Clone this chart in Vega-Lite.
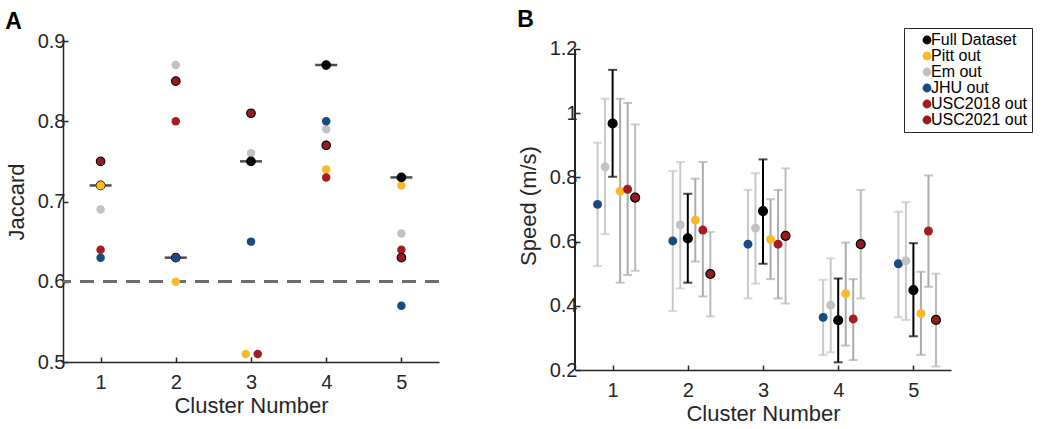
{
  "$schema": "https://vega.github.io/schema/vega-lite/v6.json",
  "padding": {"left": 5, "top": 8, "right": 5, "bottom": 5},
  "background": "white",
  "spacing": 77,
  "config": {
    "view": {"stroke": null},
    "font": "Liberation Sans",
    "axis": {
      "domainColor": "#262626", "domainWidth": 1.5,
      "tickColor": "#262626", "tickWidth": 1.5, "tickSize": -5,
      "labelColor": "#262626", "labelFontSize": 20, "labelFont": "Liberation Sans",
      "labelFlush": false, "labelOverlap": false,
      "titleFontSize": 22, "titleFontWeight": "normal", "titleColor": "#262626", "titleFont": "Liberation Sans",
      "grid": false
    },
    "axisX": {"labelPadding": 15, "titlePadding": 3},
    "axisY": {"labelPadding": 3, "titlePadding": 9}
  },
  "resolve": {"scale": {"fill": "independent"}, "legend": {"fill": "independent"}},
  "hconcat": [
    {
      "width": 376, "height": 321,
      "title": {"text": "A", "anchor": "start", "frame": "bounds", "fontSize": 23, "fontWeight": "bold", "baseline": "alphabetic", "offset": -21, "color": "black", "font": "Liberation Sans"},
      "data": {"values": [
        {"x": 1, "series": "Full Dataset", "jaccard": 0.72},
        {"x": 1, "series": "Em out", "jaccard": 0.69},
        {"x": 1, "series": "JHU out", "jaccard": 0.63},
        {"x": 1, "series": "USC2018 out", "jaccard": 0.64},
        {"x": 1, "series": "Pitt out", "jaccard": 0.72},
        {"x": 1, "series": "USC2021 out", "jaccard": 0.75},
        {"x": 2, "series": "Full Dataset", "jaccard": 0.63},
        {"x": 2, "series": "Em out", "jaccard": 0.87},
        {"x": 2, "series": "Pitt out", "jaccard": 0.60},
        {"x": 2, "series": "JHU out", "jaccard": 0.63},
        {"x": 2, "series": "USC2018 out", "jaccard": 0.80},
        {"x": 2, "series": "USC2021 out", "jaccard": 0.85},
        {"x": 3, "series": "Em out", "jaccard": 0.76},
        {"x": 3, "series": "Full Dataset", "jaccard": 0.75},
        {"x": 3, "series": "JHU out", "jaccard": 0.65},
        {"x": 2.93, "series": "Pitt out", "jaccard": 0.51},
        {"x": 3.09, "series": "USC2018 out", "jaccard": 0.51},
        {"x": 3, "series": "USC2021 out", "jaccard": 0.81},
        {"x": 4, "series": "Full Dataset", "jaccard": 0.87},
        {"x": 4, "series": "Em out", "jaccard": 0.79},
        {"x": 4, "series": "JHU out", "jaccard": 0.80},
        {"x": 4, "series": "Pitt out", "jaccard": 0.74},
        {"x": 4, "series": "USC2018 out", "jaccard": 0.73},
        {"x": 4, "series": "USC2021 out", "jaccard": 0.77},
        {"x": 5, "series": "Pitt out", "jaccard": 0.72},
        {"x": 5, "series": "Full Dataset", "jaccard": 0.73},
        {"x": 5, "series": "Em out", "jaccard": 0.66},
        {"x": 5, "series": "JHU out", "jaccard": 0.57},
        {"x": 5, "series": "USC2018 out", "jaccard": 0.64},
        {"x": 5, "series": "USC2021 out", "jaccard": 0.63}
      ]},
      "layer": [
        {
          "mark": {"type": "rule", "color": "#6e6e6e", "strokeWidth": 2, "strokeDash": [14, 9]},
          "encoding": {"y": {"datum": 0.6, "type": "quantitative"}}
        },
        {
          "transform": [{"filter": "datum.series === 'Full Dataset'"}],
          "mark": {"type": "tick", "orient": "horizontal", "size": 22, "thickness": 2.5, "color": "black"},
          "encoding": {
            "x": {"field": "x", "type": "quantitative"},
            "y": {"field": "jaccard", "type": "quantitative"}
          }
        },
        {
          "mark": {"type": "point", "filled": true, "size": 72, "opacity": 1, "stroke": "black"},
          "encoding": {
            "x": {"field": "x", "type": "quantitative", "scale": {"domain": [0.5, 5.5], "nice": false, "zero": false},
                  "axis": {"values": [1, 2, 3, 4, 5], "format": "d", "title": "Cluster Number"}},
            "y": {"field": "jaccard", "type": "quantitative", "scale": {"domain": [0.5, 0.9], "nice": false, "zero": false},
                  "axis": {"values": [0.5, 0.6, 0.7, 0.8, 0.9], "format": ".1f", "title": "Jaccard"}},
            "fill": {"field": "series", "type": "nominal", "legend": null,
                     "scale": {"domain": ["Full Dataset", "Pitt out", "Em out", "JHU out", "USC2018 out", "USC2021 out"],
                               "range": ["#000000", "#FDB826", "#C2C2C2", "#1B4A7F", "#A31D23", "#971B1E"]}},
            "strokeWidth": {"condition": {"test": "datum.series === 'USC2021 out' || datum.series === 'Full Dataset'", "value": 1.2}, "value": 0}
          }
        }
      ]
    },
    {
      "width": 376, "height": 329,
      "title": {"text": "B", "anchor": "start", "frame": "bounds", "fontSize": 23, "fontWeight": "bold", "baseline": "alphabetic", "offset": -22, "color": "black", "font": "Liberation Sans"},
      "data": {"values": [
        {"x": 0.8, "series": "JHU out", "speed": 0.716, "lo": 0.524, "hi": 0.908},
        {"x": 0.9, "series": "Em out", "speed": 0.833, "lo": 0.623, "hi": 1.045},
        {"x": 1.0, "series": "Full Dataset", "speed": 0.968, "lo": 0.802, "hi": 1.135},
        {"x": 1.1, "series": "Pitt out", "speed": 0.757, "lo": 0.472, "hi": 1.045},
        {"x": 1.2, "series": "USC2018 out", "speed": 0.763, "lo": 0.496, "hi": 1.032},
        {"x": 1.3, "series": "USC2021 out", "speed": 0.737, "lo": 0.509, "hi": 0.965},
        {"x": 1.8, "series": "JHU out", "speed": 0.602, "lo": 0.384, "hi": 0.820},
        {"x": 1.9, "series": "Em out", "speed": 0.652, "lo": 0.454, "hi": 0.848},
        {"x": 2.0, "series": "Full Dataset", "speed": 0.610, "lo": 0.472, "hi": 0.749},
        {"x": 2.1, "series": "Pitt out", "speed": 0.667, "lo": 0.538, "hi": 0.796},
        {"x": 2.2, "series": "USC2018 out", "speed": 0.636, "lo": 0.429, "hi": 0.848},
        {"x": 2.3, "series": "USC2021 out", "speed": 0.499, "lo": 0.367, "hi": 0.630},
        {"x": 2.8, "series": "JHU out", "speed": 0.592, "lo": 0.423, "hi": 0.761},
        {"x": 2.9, "series": "Em out", "speed": 0.642, "lo": 0.469, "hi": 0.813},
        {"x": 3.0, "series": "Full Dataset", "speed": 0.695, "lo": 0.531, "hi": 0.856},
        {"x": 3.1, "series": "Pitt out", "speed": 0.607, "lo": 0.483, "hi": 0.732},
        {"x": 3.2, "series": "USC2018 out", "speed": 0.592, "lo": 0.423, "hi": 0.761},
        {"x": 3.3, "series": "USC2021 out", "speed": 0.618, "lo": 0.407, "hi": 0.828},
        {"x": 3.8, "series": "JHU out", "speed": 0.364, "lo": 0.247, "hi": 0.481},
        {"x": 3.9, "series": "Em out", "speed": 0.402, "lo": 0.255, "hi": 0.548},
        {"x": 4.0, "series": "Full Dataset", "speed": 0.355, "lo": 0.224, "hi": 0.485},
        {"x": 4.1, "series": "Pitt out", "speed": 0.438, "lo": 0.276, "hi": 0.597},
        {"x": 4.2, "series": "USC2018 out", "speed": 0.359, "lo": 0.231, "hi": 0.483},
        {"x": 4.3, "series": "USC2021 out", "speed": 0.592, "lo": 0.423, "hi": 0.761},
        {"x": 4.8, "series": "JHU out", "speed": 0.531, "lo": 0.364, "hi": 0.693},
        {"x": 4.9, "series": "Em out", "speed": 0.540, "lo": 0.356, "hi": 0.723},
        {"x": 5.0, "series": "Full Dataset", "speed": 0.449, "lo": 0.305, "hi": 0.595},
        {"x": 5.1, "series": "Pitt out", "speed": 0.376, "lo": 0.247, "hi": 0.506},
        {"x": 5.2, "series": "USC2018 out", "speed": 0.633, "lo": 0.459, "hi": 0.806},
        {"x": 5.3, "series": "USC2021 out", "speed": 0.356, "lo": 0.211, "hi": 0.500}
      ]},
      "layer": [
        {
          "mark": {"type": "rule", "color": "#262626", "strokeWidth": 1.5},
          "encoding": {"x": {"datum": 0.5, "type": "quantitative"}, "y": {"datum": 0.2, "type": "quantitative"}, "y2": {"datum": 1.2}}
        },
        {
          "transform": [{"filter": "datum.series === 'JHU out' || datum.series === 'Em out'"}],
          "layer": [
            {"mark": {"type": "rule", "strokeWidth": 2, "color": "#C8C8C8"},
             "encoding": {"x": {"field": "x", "type": "quantitative"}, "y": {"field": "lo", "type": "quantitative"}, "y2": {"field": "hi"}}},
            {"transform": [{"fold": ["lo", "hi"], "as": ["end", "yv"]}],
             "mark": {"type": "tick", "orient": "horizontal", "size": 9, "thickness": 2, "color": "#C8C8C8"},
             "encoding": {"x": {"field": "x", "type": "quantitative"}, "y": {"field": "yv", "type": "quantitative"}}}
          ]
        },
        {
          "transform": [{"filter": "datum.series === 'Pitt out' || datum.series === 'USC2018 out'"}],
          "layer": [
            {"mark": {"type": "rule", "strokeWidth": 2, "color": "#ABABAB"},
             "encoding": {"x": {"field": "x", "type": "quantitative"}, "y": {"field": "lo", "type": "quantitative"}, "y2": {"field": "hi"}}},
            {"transform": [{"fold": ["lo", "hi"], "as": ["end", "yv"]}],
             "mark": {"type": "tick", "orient": "horizontal", "size": 9, "thickness": 2, "color": "#ABABAB"},
             "encoding": {"x": {"field": "x", "type": "quantitative"}, "y": {"field": "yv", "type": "quantitative"}}}
          ]
        },
        {
          "transform": [{"filter": "datum.series === 'USC2021 out'"}],
          "layer": [
            {"mark": {"type": "rule", "strokeWidth": 2, "color": "#BBBBBB"},
             "encoding": {"x": {"field": "x", "type": "quantitative"}, "y": {"field": "lo", "type": "quantitative"}, "y2": {"field": "hi"}}},
            {"transform": [{"fold": ["lo", "hi"], "as": ["end", "yv"]}],
             "mark": {"type": "tick", "orient": "horizontal", "size": 9, "thickness": 2, "color": "#BBBBBB"},
             "encoding": {"x": {"field": "x", "type": "quantitative"}, "y": {"field": "yv", "type": "quantitative"}}}
          ]
        },
        {
          "transform": [{"filter": "datum.series === 'Full Dataset'"}],
          "layer": [
            {"mark": {"type": "rule", "strokeWidth": 2, "color": "#000000"},
             "encoding": {"x": {"field": "x", "type": "quantitative"}, "y": {"field": "lo", "type": "quantitative"}, "y2": {"field": "hi"}}},
            {"transform": [{"fold": ["lo", "hi"], "as": ["end", "yv"]}],
             "mark": {"type": "tick", "orient": "horizontal", "size": 9, "thickness": 2, "color": "#000000"},
             "encoding": {"x": {"field": "x", "type": "quantitative"}, "y": {"field": "yv", "type": "quantitative"}}}
          ]
        },
        {
          "mark": {"type": "point", "filled": true, "size": 80, "opacity": 1, "stroke": "black"},
          "encoding": {
            "x": {"field": "x", "type": "quantitative", "scale": {"domain": [0.5, 5.5], "nice": false, "zero": false},
                  "axis": {"values": [1, 2, 3, 4, 5], "format": "d", "title": "Cluster Number"}},
            "y": {"field": "speed", "type": "quantitative", "scale": {"domain": [0.2, 1.2249], "nice": false, "zero": false},
                  "axis": {"values": [0.2, 0.4, 0.6, 0.8, 1, 1.2], "format": "~g", "title": "Speed (m/s)", "domain": false}},
            "fill": {"field": "series", "type": "nominal",
                     "scale": {"domain": ["Full Dataset", "Pitt out", "Em out", "JHU out", "USC2018 out", "USC2021 out"],
                               "range": ["#000000", "#FDB826", "#C2C2C2", "#1B4A7F", "#A31D23", "#971B1E"]},
                     "legend": {
                       "orient": "none", "legendX": 329, "legendY": -13, "title": null,
                       "padding": 4, "strokeColor": "#262626", "fillColor": "white",
                       "symbolSize": 78, "symbolOffset": 11, "labelOffset": -4, "symbolOpacity": 1,
                       "labelFontSize": 16, "labelFont": "Liberation Sans", "labelColor": "black",
                       "rowPadding": 0, "symbolStrokeWidth": 0
                     }},
            "strokeWidth": {"condition": {"test": "datum.series === 'USC2021 out' || datum.series === 'Full Dataset'", "value": 1.2}, "value": 0}
          }
        }
      ]
    }
  ]
}
